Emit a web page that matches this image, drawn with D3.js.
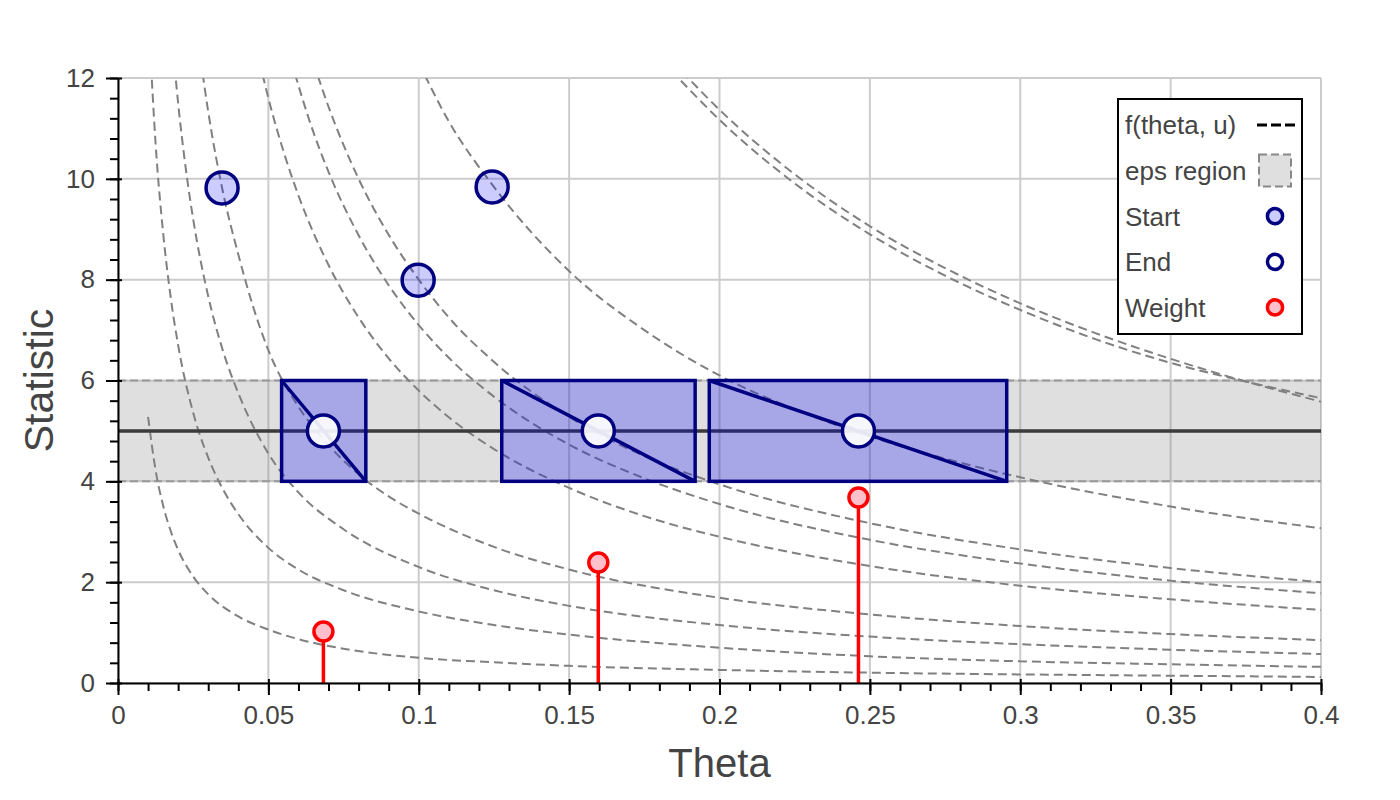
<!DOCTYPE html>
<html>
<head>
<meta charset="utf-8">
<script src="https://cdn.jsdelivr.net/npm/d3@7"></script>
<style>
  body { margin: 0; background: #fff; }
  text { font-family: "Liberation Sans", Arial, Helvetica, sans-serif; }
</style>
</head>
<body>
<div id="container"></div>
<script>
/**
 * CONSTANTS AND GLOBALS
 * */
const width = 1400,
  height = 800,
  margin = { top: 78, bottom: 117, left: 118, right: 79 };

let svg;

/**
 * DATA
 * */
const thetaDomain = [0, 0.4];
const statDomain = [0, 12];
const xTickValues = [0, 0.05, 0.1, 0.15, 0.2, 0.25, 0.3, 0.35, 0.4];
const yTickValues = [0, 2, 4, 6, 8, 10, 12];

const epsBand = [4, 6];
const targetStat = 5;

// f(theta, u) curves, [theta, statistic]
const curveA = [[0.01, 5.28], [0.0125, 4.22], [0.015, 3.52], [0.0175, 3.02], [0.02, 2.64], [0.025, 2.11], [0.03, 1.76], [0.04, 1.32], [0.05, 1.06], [0.06, 0.87], [0.075, 0.68], [0.1, 0.5], [0.125, 0.41], [0.15, 0.34], [0.2, 0.26], [0.25, 0.205], [0.3, 0.17], [0.35, 0.145], [0.4, 0.12]];
const curveB = [[0.0105, 12.8], [0.0125, 10.7], [0.015, 8.93], [0.0175, 7.66], [0.02, 6.7], [0.025, 5.36], [0.03, 4.47], [0.035, 3.83], [0.04, 3.35], [0.05, 2.68], [0.06, 2.25], [0.075, 1.84], [0.1, 1.42], [0.125, 1.15], [0.15, 0.96], [0.2, 0.7], [0.25, 0.53], [0.3, 0.43], [0.35, 0.37], [0.4, 0.32]];
const curveC = [[0.018, 12.78], [0.02, 11.5], [0.0225, 10.22], [0.025, 9.2], [0.03, 7.67], [0.035, 6.57], [0.04, 5.75], [0.05, 4.55], [0.06, 3.78], [0.075, 3.05], [0.1, 2.3], [0.125, 1.84], [0.15, 1.53], [0.2, 1.15], [0.25, 0.92], [0.3, 0.77], [0.35, 0.66], [0.4, 0.575]];
const curveD = [[0.0275, 12.36], [0.03, 11.33], [0.035, 9.71], [0.04, 8.5], [0.045, 7.45], [0.05, 6.6], [0.06, 5.48], [0.07, 4.72], [0.08, 4.14], [0.09, 3.7], [0.1, 3.36], [0.125, 2.7], [0.15, 2.25], [0.2, 1.69], [0.25, 1.36], [0.3, 1.13], [0.35, 0.97], [0.4, 0.85]];
const curveE = [[0.047, 12.34], [0.05, 11.6], [0.055, 10.55], [0.06, 9.67], [0.07, 8.29], [0.08, 7.25], [0.09, 6.44], [0.1, 5.8], [0.11, 5.27], [0.125, 4.64], [0.15, 3.87], [0.175, 3.31], [0.2, 2.9], [0.25, 2.32], [0.3, 1.93], [0.35, 1.66], [0.4, 1.45]];
const curveF = [[0.0575, 12.35], [0.065, 10.92], [0.07, 10.14], [0.08, 8.88], [0.09, 7.89], [0.1, 7.1], [0.11, 6.45], [0.125, 5.68], [0.15, 4.73], [0.175, 4.06], [0.2, 3.55], [0.25, 2.84], [0.3, 2.37], [0.35, 2.03], [0.4, 1.78]];
const curveG = [[0.065, 12.3], [0.07, 11.43], [0.08, 10.0], [0.09, 8.89], [0.1, 8.0], [0.11, 7.25], [0.125, 6.37], [0.15, 5.28], [0.175, 4.5], [0.2, 3.94], [0.25, 3.17], [0.3, 2.65], [0.35, 2.28], [0.4, 2.0]];
const curveI = [[0.1, 12.3], [0.11, 11.14], [0.125, 9.84], [0.15, 8.17], [0.175, 7.0], [0.2, 6.1], [0.225, 5.43], [0.25, 4.89], [0.275, 4.45], [0.3, 4.08], [0.35, 3.5], [0.4, 3.07]];
const curveJ = [[0.184, 12.15], [0.19, 11.77], [0.2, 11.17], [0.225, 9.91], [0.25, 8.9], [0.275, 8.08], [0.3, 7.4], [0.325, 6.82], [0.35, 6.35], [0.375, 5.98], [0.4, 5.65]];
const curveK = [[0.1875, 12.13], [0.2, 11.37], [0.225, 10.09], [0.25, 9.06], [0.275, 8.23], [0.3, 7.53], [0.325, 6.94], [0.35, 6.43], [0.375, 5.98], [0.4, 5.58]];
const fCurves = [curveA, curveB, curveC, curveD, curveE, curveF, curveG, curveI, curveJ, curveK];

// start points
const startTheta = [0.0346, 0.0998, 0.1244];
const startStat = [9.82, 7.99, 9.84];

// end points and their boxes
const endTheta = [0.0683, 0.1597, 0.2462];
const endStat = [5, 5, 5];
const boxLeft = [0.0544, 0.1276, 0.1966];
const boxRight = [0.0824, 0.1919, 0.2955];

// weights
const weightValue = [1.02, 2.39, 3.68];

const legendLabels = ["f(theta, u)", "eps region", "Start", "End", "Weight"];

/**
 * SCALES
 * */
const x = d3.scaleLinear().domain(thetaDomain).range([margin.left, width - margin.right]);
const y = d3.scaleLinear().domain(statDomain).range([height - margin.bottom, margin.top]);

const navy = "#000080";
const markStroke = 3.5;

/**
 * DRAW
 * */
svg = d3.select("#container")
  .append("svg")
  .attr("width", width)
  .attr("height", height);

svg.append("defs").append("clipPath")
  .attr("id", "plot-clip")
  .append("rect")
  .attr("x", x(0))
  .attr("y", y(12))
  .attr("width", x(0.4) - x(0))
  .attr("height", y(0) - y(12));

// grid
const grid = svg.append("g");
grid.selectAll("line.vgrid")
  .data(xTickValues)
  .join("line")
  .attr("class", "vgrid")
  .attr("x1", d => x(d)).attr("x2", d => x(d))
  .attr("y1", y(12)).attr("y2", y(0))
  .attr("stroke", "#cccccc")
  .attr("stroke-width", 2);
grid.selectAll("line.hgrid")
  .data(yTickValues)
  .join("line")
  .attr("class", "hgrid")
  .attr("x1", x(0)).attr("x2", x(0.4))
  .attr("y1", d => y(d)).attr("y2", d => y(d))
  .attr("stroke", "#cccccc")
  .attr("stroke-width", 2);

// eps band
svg.append("rect")
  .attr("x", x(0))
  .attr("y", y(epsBand[1]))
  .attr("width", x(0.4) - x(0))
  .attr("height", y(epsBand[0]) - y(epsBand[1]))
  .attr("fill", "gray")
  .attr("fill-opacity", 0.25);
svg.selectAll("line.band-edge")
  .data(epsBand)
  .join("line")
  .attr("class", "band-edge")
  .attr("x1", x(0)).attr("x2", x(0.4))
  .attr("y1", d => y(d)).attr("y2", d => y(d))
  .attr("stroke", "#999")
  .attr("stroke-width", 2)
  .attr("stroke-dasharray", "8,4");

// curves
const line = d3.line()
  .x(d => x(d[0]))
  .y(d => y(d[1]))
  .curve(d3.curveMonotoneX);

svg.append("g")
  .attr("clip-path", "url(#plot-clip)")
  .selectAll("path.fcurve")
  .data(fCurves)
  .join("path")
  .attr("class", "fcurve")
  .attr("d", line)
  .attr("fill", "none")
  .attr("stroke", "#808080")
  .attr("stroke-width", 2)
  .attr("stroke-dasharray", "9,5");

// target line
svg.append("line")
  .attr("x1", x(0)).attr("x2", x(0.4))
  .attr("y1", y(targetStat)).attr("y2", y(targetStat))
  .attr("stroke", "#3a3a3a")
  .attr("stroke-width", 3.5);

// boxes + diagonals
const boxIdx = d3.range(boxLeft.length);
svg.selectAll("rect.box")
  .data(boxIdx)
  .join("rect")
  .attr("class", "box")
  .attr("x", i => x(boxLeft[i]))
  .attr("y", y(epsBand[1]))
  .attr("width", i => x(boxRight[i]) - x(boxLeft[i]))
  .attr("height", y(epsBand[0]) - y(epsBand[1]))
  .attr("fill", "blue")
  .attr("fill-opacity", 0.25)
  .attr("stroke", navy)
  .attr("stroke-width", markStroke);
svg.selectAll("line.diag")
  .data(boxIdx)
  .join("line")
  .attr("class", "diag")
  .attr("x1", i => x(boxLeft[i])).attr("y1", y(epsBand[1]))
  .attr("x2", i => x(boxRight[i])).attr("y2", y(epsBand[0]))
  .attr("stroke", navy)
  .attr("stroke-width", markStroke);

// weights
svg.selectAll("line.stem")
  .data(boxIdx)
  .join("line")
  .attr("class", "stem")
  .attr("x1", i => x(endTheta[i])).attr("x2", i => x(endTheta[i]))
  .attr("y1", y(0)).attr("y2", i => y(weightValue[i]))
  .attr("stroke", "red")
  .attr("stroke-width", markStroke);
svg.selectAll("circle.weight")
  .data(boxIdx)
  .join("circle")
  .attr("class", "weight")
  .attr("cx", i => x(endTheta[i]))
  .attr("cy", i => y(weightValue[i]))
  .attr("r", 9.5)
  .attr("fill", "pink")
  .attr("stroke", "red")
  .attr("stroke-width", markStroke);

// start points
svg.selectAll("circle.start")
  .data(d3.range(startTheta.length))
  .join("circle")
  .attr("class", "start")
  .attr("cx", i => x(startTheta[i]))
  .attr("cy", i => y(startStat[i]))
  .attr("r", 16)
  .attr("fill", "blue")
  .attr("fill-opacity", 0.2)
  .attr("stroke", navy)
  .attr("stroke-width", markStroke);

// end points
svg.selectAll("circle.end")
  .data(boxIdx)
  .join("circle")
  .attr("class", "end")
  .attr("cx", i => x(endTheta[i]))
  .attr("cy", i => y(endStat[i]))
  .attr("r", 16)
  .attr("fill", "white")
  .attr("fill-opacity", 0.9)
  .attr("stroke", navy)
  .attr("stroke-width", markStroke);

// axes
const xAxis = d3.axisBottom(x)
  .tickValues(xTickValues)
  .tickFormat(d3.format("~g"))
  .tickSizeInner(12)
  .tickSizeOuter(0)
  .tickPadding(11);
const gx = svg.append("g")
  .attr("transform", `translate(0,${y(0)})`)
  .call(xAxis);
gx.selectAll(".tick line").attr("y1", -4).attr("stroke-width", 2);
gx.select(".domain").attr("stroke-width", 2);
gx.selectAll("text").attr("font-size", 26).attr("fill", "#444");

const gxMinor = svg.append("g")
  .attr("transform", `translate(0,${y(0)})`)
  .call(d3.axisBottom(x).tickValues(d3.range(0, 0.4001, 0.01)).tickSize(8).tickFormat(""));
gxMinor.select(".domain").remove();
gxMinor.selectAll(".tick line").attr("stroke-width", 2);

const yAxis = d3.axisLeft(y)
  .tickValues(yTickValues)
  .tickSizeInner(12)
  .tickSizeOuter(0)
  .tickPadding(11);
const gy = svg.append("g")
  .attr("transform", `translate(${x(0)},0)`)
  .call(yAxis);
gy.selectAll(".tick line").attr("x1", 4).attr("stroke-width", 2);
gy.select(".domain").attr("stroke-width", 2);
gy.selectAll("text").attr("font-size", 26).attr("fill", "#444");

const gyMinor = svg.append("g")
  .attr("transform", `translate(${x(0)},0)`)
  .call(d3.axisLeft(y).tickValues(d3.range(0, 12.001, 0.4)).tickSize(8).tickFormat(""));
gyMinor.select(".domain").remove();
gyMinor.selectAll(".tick line").attr("stroke-width", 2);

// axis labels
svg.append("text")
  .attr("x", (x(0) + x(0.4)) / 2)
  .attr("y", 777)
  .attr("text-anchor", "middle")
  .attr("font-size", 40)
  .attr("fill", "#444")
  .text("Theta");
svg.append("text")
  .attr("transform", `translate(53,${(y(0) + y(12)) / 2}) rotate(-90)`)
  .attr("text-anchor", "middle")
  .attr("font-size", 41)
  .attr("fill", "#444")
  .text("Statistic");

// legend
const legend = svg.append("g");
legend.append("rect")
  .attr("x", 1118).attr("y", 99)
  .attr("width", 184).attr("height", 235)
  .attr("fill", "white")
  .attr("stroke", "black")
  .attr("stroke-width", 2);

const rowY = i => 125 + i * 45.6;
const glyphX = 1275;

legend.selectAll("text")
  .data(legendLabels)
  .join("text")
  .attr("x", 1125)
  .attr("y", (d, i) => rowY(i))
  .attr("dy", "0.36em")
  .attr("font-size", 26)
  .attr("fill", "#444")
  .text(d => d);

legend.append("line")
  .attr("x1", 1257).attr("x2", 1296)
  .attr("y1", rowY(0)).attr("y2", rowY(0))
  .attr("stroke", "black")
  .attr("stroke-width", 3)
  .attr("stroke-dasharray", "10,4");
legend.append("rect")
  .attr("x", glyphX - 16).attr("y", rowY(1) - 16)
  .attr("width", 32).attr("height", 32)
  .attr("fill", "gray").attr("fill-opacity", 0.25)
  .attr("stroke", "#888").attr("stroke-width", 2)
  .attr("stroke-dasharray", "8,4");
legend.append("circle")
  .attr("cx", glyphX).attr("cy", rowY(2)).attr("r", 7.6)
  .attr("fill", "blue").attr("fill-opacity", 0.2)
  .attr("stroke", navy).attr("stroke-width", markStroke);
legend.append("circle")
  .attr("cx", glyphX).attr("cy", rowY(3)).attr("r", 7.6)
  .attr("fill", "white")
  .attr("stroke", navy).attr("stroke-width", markStroke);
legend.append("circle")
  .attr("cx", glyphX).attr("cy", rowY(4)).attr("r", 7.6)
  .attr("fill", "pink")
  .attr("stroke", "red").attr("stroke-width", markStroke);
</script>
</body>
</html>
